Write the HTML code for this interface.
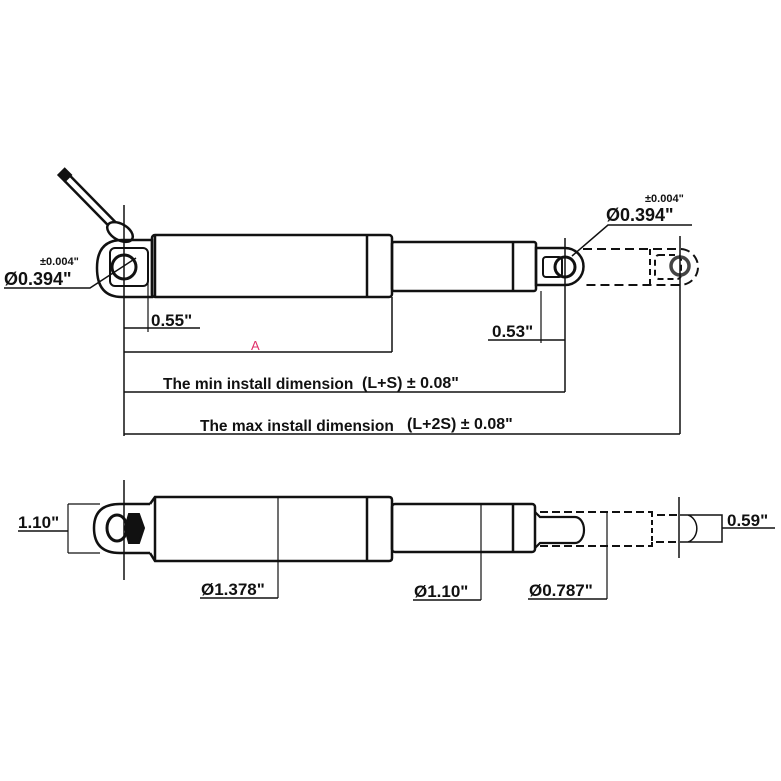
<!DOCTYPE html>
<html><head><meta charset="utf-8"><style>
body{margin:0;background:#fff}
svg{display:block}
text{font-family:"Liberation Sans",sans-serif;font-weight:bold;fill:#111}
</style></head><body>
<svg width="781" height="781" viewBox="0 0 781 781" xmlns="http://www.w3.org/2000/svg">
<g fill="none" stroke="#111" stroke-width="2">
<!-- cable -->
<line x1="67" y1="178" x2="116" y2="228" stroke-width="10"/>
<line x1="67" y1="178" x2="116" y2="228" stroke="#fff" stroke-width="5"/>
<rect x="60" y="170" width="9" height="9" fill="#111" transform="rotate(45 64 175)"/>
<ellipse cx="120" cy="232" rx="14" ry="8" transform="rotate(30 120 232)" fill="#fff" stroke-width="2.5"/>
<!-- left eye -->
<path d="M152 240 H122 Q97 240 97 268 Q97 297 122 297 H152 Z" stroke-width="2.5"/>
<rect x="110" y="248" width="38" height="38" rx="5"/>
<circle cx="124" cy="267" r="12" stroke-width="3"/>
<!-- body -->
<rect x="152" y="235" width="240" height="62" rx="3" stroke-width="2.5"/>
<line x1="155" y1="235" x2="155" y2="297" stroke-width="2.5"/>
<line x1="367" y1="235" x2="367" y2="297" stroke-width="2.5"/>
<!-- rod -->
<rect x="392" y="242" width="144" height="49" rx="2" stroke-width="2.5"/>
<line x1="513" y1="242" x2="513" y2="291" stroke-width="2.5"/>
<!-- right eye -->
<path d="M536 248 H565 A18.5 18.5 0 0 1 565 285 H536 Z" stroke-width="2.5"/>
<rect x="543" y="257" width="19" height="20" rx="3"/>
<circle cx="565" cy="267" r="10" stroke-width="3"/>
<!-- dashed extension -->
<path d="M583 249 H680 A17 17 0 0 1 680 285 H583" stroke-dasharray="9,5"/>
<line x1="650" y1="249" x2="650" y2="285" stroke-dasharray="6,4"/>
<rect x="655" y="255" width="26" height="24" rx="4" stroke-dasharray="6,4"/>
<circle cx="680" cy="266" r="9" stroke-width="3.5" stroke="#444"/>
<!-- center/extension lines -->
<line x1="124" y1="205" x2="124" y2="436" stroke-width="1.5"/>
<line x1="148" y1="270" x2="148" y2="332" stroke-width="1.2"/>
<line x1="124" y1="328" x2="200" y2="328" stroke-width="1.5"/>
<line x1="124" y1="352" x2="392" y2="352" stroke-width="1.5"/>
<line x1="392" y1="297" x2="392" y2="352" stroke-width="1.5"/>
<line x1="541" y1="291" x2="541" y2="343" stroke-width="1.2"/>
<line x1="488" y1="340" x2="565" y2="340" stroke-width="1.5"/>
<line x1="565" y1="238" x2="565" y2="392" stroke-width="1.5"/>
<line x1="124" y1="392" x2="565" y2="392" stroke-width="1.5"/>
<line x1="680" y1="236" x2="680" y2="434" stroke-width="1.5"/>
<line x1="124" y1="434" x2="680" y2="434" stroke-width="1.5"/>
<!-- leaders -->
<polyline points="4,288 90,288 136,258" stroke-width="1.5"/>
<polyline points="572,256 608,225 692,225" stroke-width="1.5"/>

<!-- BOTTOM VIEW -->
<path d="M150 504 H120 Q94 504 94 528 Q94 553 120 553 H150" stroke-width="2.5"/>
<path d="M150 504 L155 497 H389 Q392 497 392 500 V558 Q392 561 389 561 H155 L150 553" stroke-width="2.5"/>
<line x1="155" y1="497" x2="155" y2="561" stroke-width="2.5"/>
<line x1="367" y1="497" x2="367" y2="561" stroke-width="2.5"/>
<rect x="392" y="504" width="143" height="48" rx="3" stroke-width="2.5"/>
<line x1="513" y1="504" x2="513" y2="552" stroke-width="2.5"/>
<ellipse cx="117" cy="528" rx="10" ry="13" stroke-width="3"/>
<polygon points="129,514 139,514 144,528 139,543 129,543 125,528" fill="#111"/>
<line x1="124" y1="480" x2="124" y2="580" stroke-width="1.5"/>
<path d="M535 512 L540 517 H575 A9 13 0 0 1 575 543 H540 L535 548" stroke-width="2.2"/>
<path d="M540 512 H652 V515 H678 M540 546 H652 V542 H678" stroke-dasharray="8,4"/>
<line x1="652" y1="512" x2="652" y2="546" stroke-dasharray="5,3"/>
<line x1="679" y1="497" x2="679" y2="558" stroke-width="1.5"/>
<path d="M680 515 H722 V542 H680 M688 515 A12 14 0 0 1 688 542" stroke-width="1.5"/>
<line x1="722" y1="528" x2="775" y2="528" stroke-width="1.5"/>
<line x1="68" y1="504" x2="100" y2="504" stroke-width="1.2"/>
<line x1="68" y1="553" x2="100" y2="553" stroke-width="1.2"/>
<line x1="68" y1="504" x2="68" y2="553" stroke-width="1.2"/>
<line x1="18" y1="531" x2="68" y2="531" stroke-width="1.5"/>
<line x1="278" y1="497" x2="278" y2="598" stroke-width="1.2"/>
<line x1="200" y1="598" x2="278" y2="598" stroke-width="1.5"/>
<line x1="481" y1="504" x2="481" y2="600" stroke-width="1.2"/>
<line x1="413" y1="600" x2="481" y2="600" stroke-width="1.5"/>
<line x1="607" y1="512" x2="607" y2="599" stroke-width="1.2"/>
<line x1="528" y1="599" x2="607" y2="599" stroke-width="1.5"/>
</g>
<text x="40" y="265" font-size="11">±0.004"</text>
<text x="4" y="285" font-size="18">Ø0.394"</text>
<text x="151" y="326" font-size="17">0.55"</text>
<text x="251" y="350" font-size="13" style="fill:#e0306a;font-weight:normal">A</text>
<text x="492" y="337" font-size="17">0.53"</text>
<text x="645" y="202" font-size="11">±0.004"</text>
<text x="606" y="221" font-size="18">Ø0.394"</text>
<text x="163" y="389" font-size="15.5">The min install dimension</text>
<text x="362" y="388" font-size="16">(L+S) ± 0.08"</text>
<text x="200" y="431" font-size="15.5">The max install dimension</text>
<text x="407" y="429" font-size="16">(L+2S) ± 0.08"</text>
<text x="18" y="528" font-size="17">1.10"</text>
<text x="201" y="595" font-size="17">Ø1.378"</text>
<text x="414" y="597" font-size="17">Ø1.10"</text>
<text x="529" y="596" font-size="17">Ø0.787"</text>
<text x="727" y="526" font-size="17">0.59"</text>
</svg>
</body></html>
